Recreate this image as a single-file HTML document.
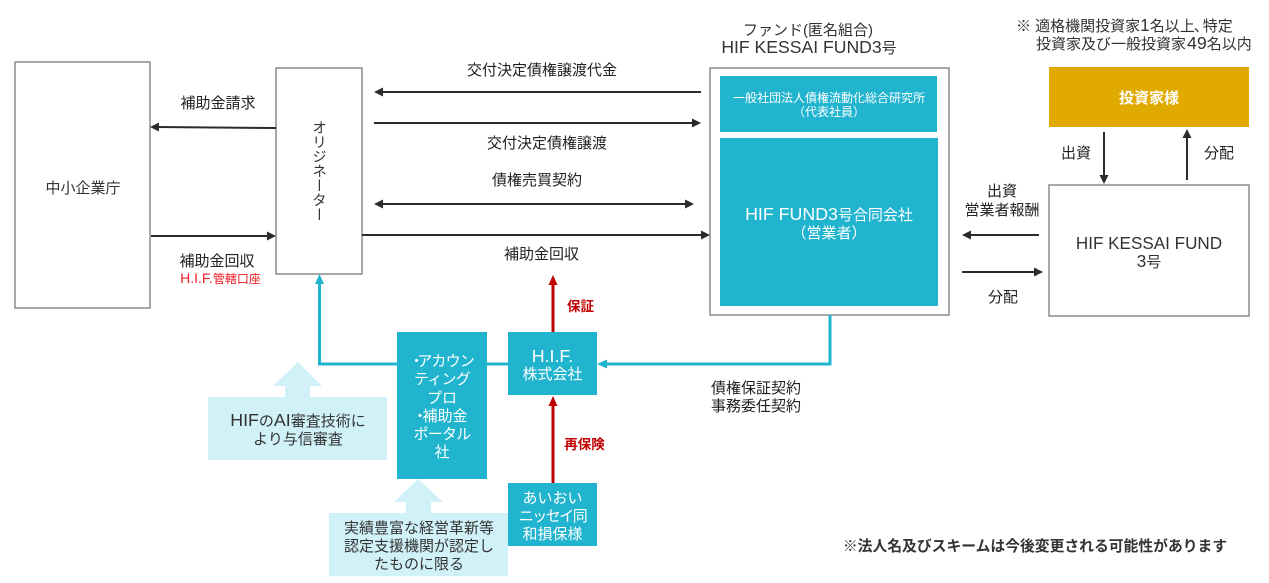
<!DOCTYPE html>
<html><head><meta charset="utf-8"><style>
html,body{margin:0;padding:0;background:#fff;width:1269px;height:583px;overflow:hidden}
svg{display:block}
text{font-family:"Liberation Sans","Noto Sans CJK JP",sans-serif;font-size:15px;fill:#333;text-anchor:middle}
.w{fill:#fff}.b{font-weight:700}.k{fill:#222}
.l{font-size:17.800px}.m{font-size:17.100px}
.n{letter-spacing:-0.800px}
</style></head><body>
<svg width="1269" height="583" viewBox="0 0 1269 583" xmlns="http://www.w3.org/2000/svg">
<g fill="#fff" stroke="#8c8c8c" stroke-width="1.5">
<rect x="15" y="62" width="135" height="246"/>
<rect x="276" y="68" width="86" height="206"/>
<rect x="710" y="68" width="239" height="247"/>
<rect x="1049" y="185" width="200" height="131"/>
</g>
<g fill="#20b4cf">
<rect x="720" y="76" width="217" height="56"/>
<rect x="720" y="138" width="218" height="168"/>
<rect x="397" y="332" width="90" height="147"/>
<rect x="508" y="332" width="89" height="63"/>
<rect x="508" y="483" width="89" height="63"/>
</g>
<rect x="1049" y="67" width="200" height="60" fill="#e0aa00"/>
<g fill="#d1f1f8">
<rect x="208" y="397" width="179" height="63"/>
<polygon points="298,362 322,386 310,386 310,397 285,397 285,386 273,386"/>
<rect x="329" y="513" width="179" height="63"/>
<polygon points="418,479 443,502 431,502 431,513 406,513 406,502 394,502"/>
</g>
<g fill="none" stroke="#20b4cf" stroke-width="3">
<polyline points="397,364 319.500,364 319.500,282"/>
<line x1="487" y1="364" x2="508" y2="364"/>
<polyline points="830,315 830,364 606,364"/>
</g>
<g fill="#20b4cf">
<polygon points="319.500,274 324,284 315,284"/>
<polygon points="597,364 607,359.500 607,368.500"/>
</g>
<g stroke="#c00000" stroke-width="3">
<line x1="553" y1="332" x2="553" y2="282"/>
<line x1="553" y1="483" x2="553" y2="403"/>
</g>
<g fill="#c00000">
<polygon points="553,275 557.500,285 548.500,285"/>
<polygon points="553,396 557.500,406 548.500,406"/>
</g>
<g stroke="#2b2b2b" stroke-width="2" fill="none">
<line x1="276" y1="128" x2="156" y2="127"/>
<line x1="151" y1="236" x2="270" y2="236"/>
<line x1="701" y1="92" x2="380" y2="92"/>
<line x1="374" y1="123" x2="695" y2="123"/>
<line x1="380" y1="204" x2="688" y2="204"/>
<line x1="362" y1="235" x2="704" y2="235"/>
<line x1="1104" y1="132" x2="1104" y2="178"/>
<line x1="1187" y1="180" x2="1187" y2="135"/>
<line x1="1039" y1="235" x2="968" y2="235"/>
<line x1="962" y1="272" x2="1037" y2="272"/>
</g>
<g fill="#2b2b2b">
<polygon points="150,127 159,122.500 159,131.500"/>
<polygon points="276,236 267,231.500 267,240.500"/>
<polygon points="374,92 383,87.500 383,96.500"/>
<polygon points="701,123 692,118.500 692,127.500"/>
<polygon points="374,204 383,199.500 383,208.500"/>
<polygon points="694,204 685,199.500 685,208.500"/>
<polygon points="710,235 701,230.500 701,239.500"/>
<polygon points="1104,184 1099.500,175 1108.500,175"/>
<polygon points="1187,129 1191.500,138 1182.500,138"/>
<polygon points="962,235 971,230.500 971,239.500"/>
<polygon points="1043,272 1034,267.500 1034,276.500"/>
</g>
<text x="83" y="193">中小企業庁</text>
<text x="218" y="108" class="k">補助金請求</text>
<text x="217" y="266" class="k">補助金回収</text>
<text x="220.500" y="283" style="font-size:12px;fill:#f01c24"><tspan style="font-size:14px">H.I.F.</tspan>管轄口座</text>
<text x="318" y="171" style="writing-mode:vertical-rl;font-size:14.500px">オリジネーター</text>
<text x="542" y="75" class="k">交付決定債権譲渡代金</text>
<text x="547" y="148" class="k">交付決定債権譲渡</text>
<text x="537" y="185" class="k">債権売買契約</text>
<text x="541.500" y="259" class="k">補助金回収</text>
<text x="808" y="35">ファンド(匿名組合)</text>
<text x="809" y="53"><tspan style="font-size:17.600px">HIF KESSAI FUND3</tspan>号</text>
<text x="1016" y="31" style="text-anchor:start">※ 適格機関投資家<tspan class="m">1</tspan>名以上<tspan dx="-1">、</tspan><tspan dx="-6">特定</tspan></text>
<text x="1036" y="49" style="text-anchor:start">投資家及び一般投資家<tspan class="l" dx="1">49</tspan>名以内</text>
<text x="829" y="102" class="w" style="font-size:12px">一般社団法人債権流動化総合研究所</text>
<text x="829" y="116" class="w" style="font-size:12px">（代表社員）</text>
<text x="829" y="220" class="w"><tspan class="l">HIF FUND3</tspan>号合同会社</text>
<text x="829" y="238" class="w">（営業者）</text>
<text x="1149" y="103" class="w b">投資家様</text>
<text x="1076" y="158" class="k">出資</text>
<text x="1219" y="158" class="k">分配</text>
<text x="1002" y="196" class="k">出資</text>
<text x="1002" y="215" class="k">営業者報酬</text>
<text x="1003" y="302" class="k">分配</text>
<text x="1149" y="249" class="m">HIF KESSAI FUND</text>
<text x="1149" y="267"><tspan class="m">3</tspan>号</text>
<text x="580.500" y="311" style="font-size:13.500px;fill:#c00000;font-weight:700">保証</text>
<text x="584.500" y="449" style="font-size:13.500px;fill:#c00000;font-weight:700">再保険</text>
<text x="756" y="393" class="k">債権保証契約</text>
<text x="756" y="411" class="k">事務委任契約</text>
<text x="441.500" y="366" class="w n">・<tspan dx="-6">アカウン</tspan></text>
<text x="442" y="384" class="w n">ティング</text>
<text x="442" y="403" class="w">プロ</text>
<text x="440" y="421" class="w">・<tspan dx="-5">補助金</tspan></text>
<text x="442" y="439" class="w n">ポータル</text>
<text x="442" y="457" class="w">社</text>
<text x="552.500" y="362" class="w l">H.I.F.</text>
<text x="552.500" y="379" class="w">株式会社</text>
<text x="552.500" y="503" class="w">あいおい</text>
<text x="552.500" y="521" class="w" style="letter-spacing:-1.500px">ニッセイ同</text>
<text x="552.500" y="539" class="w">和損保様</text>
<text x="298" y="426"><tspan class="l">HIF</tspan>の<tspan class="l">AI</tspan>審査技術に</text>
<text x="298" y="444">より与信審査</text>
<text x="419" y="533">実績豊富な経営革新等</text>
<text x="419" y="551">認定支援機関が認定し</text>
<text x="419" y="569">たものに限る</text>
<text x="1035" y="551" class="b" style="font-size:14.800px">※法人名及びスキームは今後変更される可能性があります</text>
</svg>
</body></html>
